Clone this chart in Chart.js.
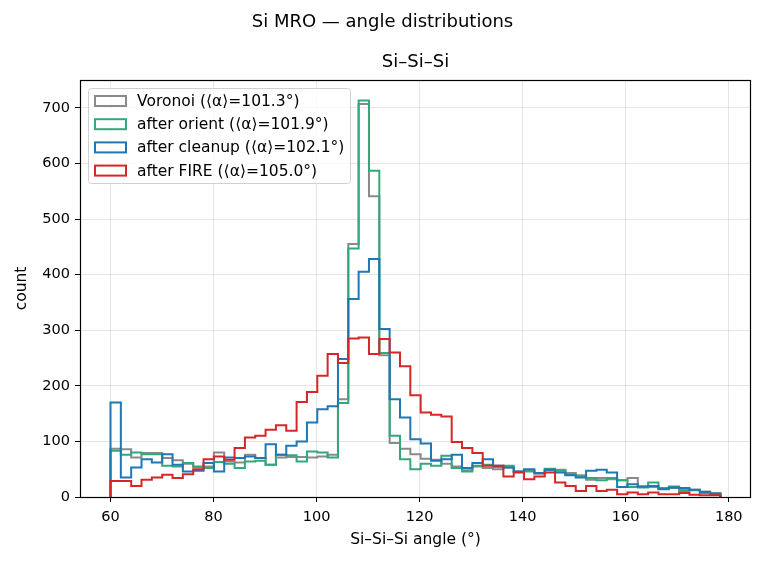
<!DOCTYPE html>
<html>
<head>
<meta charset="utf-8">
<script src="https://cdn.jsdelivr.net/npm/chart.js@4"></script>
<style>
  body { margin: 0; background: #fff; }
  #myChart { display: block; }
</style>
</head>
<body>
<canvas id="myChart" width="765" height="562"></canvas>
<script>
const ctx = document.getElementById('myChart')

// histogram range (deg) and counts per bin
const binLo = 60
const binHi = 178.4
const voronoi = [87, 86, 71, 79, 79, 70, 66, 60, 54, 55, 80, 64, 62, 76, 70, 58, 71, 72, 72, 71,
  73, 76, 176, 455, 707, 541, 255, 97, 87, 77, 69, 67, 60, 55, 48, 55, 52, 50, 53, 46,
  47, 42, 48, 49, 43, 39, 31, 34, 32, 30, 34, 19, 18, 15, 16, 14, 13, 10, 7]
const orient = [83, 76, 80, 77, 77, 56, 55, 61, 55, 52, 63, 60, 52, 64, 65, 58, 76, 75, 64, 82,
  80, 71, 169, 447, 713, 587, 259, 110, 68, 50, 60, 56, 74, 52, 46, 56, 58, 54, 56, 45,
  46, 43, 51, 47, 40, 37, 34, 30, 34, 30, 18, 17, 26, 16, 19, 11, 12, 7, 5]
const cleanup = [170, 35, 53, 68, 62, 77, 58, 46, 47, 61, 46, 71, 70, 73, 70, 95, 76, 92, 100, 134,
  158, 163, 248, 356, 405, 428, 302, 176, 143, 104, 96, 65, 68, 76, 52, 61, 68, 56, 53, 46,
  50, 43, 49, 44, 39, 35, 47, 49, 44, 18, 23, 19, 20, 14, 17, 16, 13, 9, 6]
const fire = [29, 29, 20, 31, 35, 40, 34, 41, 50, 68, 73, 67, 88, 107, 110, 121, 129, 119, 171, 189,
  218, 257, 241, 285, 287, 257, 284, 260, 235, 183, 152, 148, 145, 99, 88, 79, 56, 56, 37, 44,
  32, 37, 44, 26, 20, 11, 20, 11, 13, 5, 8, 5, 8, 5, 5, 7, 4, 3, 3]

const labels = [
  'Voronoi (⟨α⟩=101.3°)',
  'after orient (⟨α⟩=101.9°)',
  'after cleanup (⟨α⟩=102.1°)',
  'after FIRE (⟨α⟩=105.0°)'
]
const colors = ['#8a8a8a', '#33a878', '#1f77b4', '#d62728']
const xTicks = [60, 80, 100, 120, 140, 160, 180]
const yTicks = [0, 100, 200, 300, 400, 500, 600, 700]

const nBins = voronoi.length
const binEdges = []
for (let i = 0; i <= nBins; i++) binEdges.push(binLo + i * (binHi - binLo) / nBins)

// outline of a step histogram: up at the first edge, down at the last one
function stepPoints(counts) {
  let pts = [{x: binEdges[0], y: 0}]
  counts.forEach((c, i) => pts.push({x: binEdges[i + 1], y: c}))
  pts.push({x: binEdges[nBins], y: 0})
  return pts
}

const font = 'DejaVu Sans'
const pad = 0.05 * (binHi - binLo)

const series = [voronoi, orient, cleanup, fire]
const datasets = series.map((s, i) => ({
  label: labels[i],
  data: stepPoints(s),
  borderColor: colors[i],
  backgroundColor: 'transparent',
  borderWidth: 2,
  pointRadius: 0,
  stepped: 'after',
  fill: false,
  order: series.length - i
}))

const frameAndText = {
  id: 'frameAndText',
  afterDraw(chart) {
    const c = chart.ctx
    const a = chart.chartArea
    c.save()
    c.strokeStyle = '#000'
    c.lineWidth = 1.2
    c.strokeRect(a.left + 0.5, a.top + 0.5, a.right - a.left - 1, a.bottom - a.top)
    c.fillStyle = '#000'
    c.textAlign = 'center'
    c.textBaseline = 'middle'
    c.font = '18px "' + font + '"'
    c.fillText('Si MRO — angle distributions', 382.5, 22)
    c.fillText('Si–Si–Si', (a.left + a.right) / 2, 62)
    c.restore()
  },
  afterDatasetsDraw(chart) {
    const c = chart.ctx
    const a = chart.chartArea
    const bx = a.left + 8, by = a.top + 8, bw = 262, bh = 95
    c.save()
    c.beginPath()
    c.roundRect(bx + 0.5, by + 0.5, bw, bh, 3)
    c.fillStyle = 'rgba(255,255,255,0.8)'
    c.fill()
    c.strokeStyle = '#d0d0d0'
    c.lineWidth = 1
    c.stroke()
    c.font = '15.5px "' + font + '"'
    c.textBaseline = 'middle'
    c.textAlign = 'left'
    chart.data.datasets.forEach((d, i) => {
      const cy = by + 13 + i * 23.2
      c.strokeStyle = d.borderColor
      c.lineWidth = 2
      c.strokeRect(bx + 7, cy - 5, 31, 10)
      c.fillStyle = '#000'
      c.fillText(d.label, bx + 49, cy + 1)
    })
    c.restore()
  }
}

const config = {
  type: 'line',
  data: { datasets },
  options: {
    responsive: false,
    animation: false,
    devicePixelRatio: 1,
    layout: { padding: { left: 0, right: 14, top: 80, bottom: 0 } },
    plugins: {
      legend: { display: false },
      tooltip: { enabled: false },
      title: { display: false }
    },
    scales: {
      x: {
        type: 'linear',
        min: binLo - pad,
        max: binHi + pad,
        afterFit: s => { s.height = 65 },
        afterBuildTicks: s => { s.ticks = xTicks.map(v => ({value: v})) },
        grid: { color: 'rgba(0,0,0,0.1)', tickColor: '#000', tickLength: 5, lineWidth: 1 },
        border: { display: false },
        ticks: { color: '#000', font: { family: font, size: 14.5 }, padding: 7, maxRotation: 0 },
        title: {
          display: true, text: 'Si–Si–Si angle (°)', color: '#000',
          font: { family: font, size: 15.5 }, padding: { top: 0, bottom: 13 }
        }
      },
      y: {
        min: 0,
        max: 750,
        afterFit: s => { s.width = 80 },
        afterBuildTicks: s => { s.ticks = yTicks.map(v => ({value: v})) },
        grid: { color: 'rgba(0,0,0,0.1)', tickColor: '#000', tickLength: 5, lineWidth: 1 },
        border: { display: false },
        ticks: { color: '#000', font: { family: font, size: 14.5 }, padding: 5 },
        title: {
          display: true, text: 'count', color: '#000',
          font: { family: font, size: 15.5 }, padding: { top: 13, bottom: 0 }
        }
      }
    }
  },
  plugins: [frameAndText]
}

const myChart = new Chart(ctx, config)
</script>
</body>
</html>
